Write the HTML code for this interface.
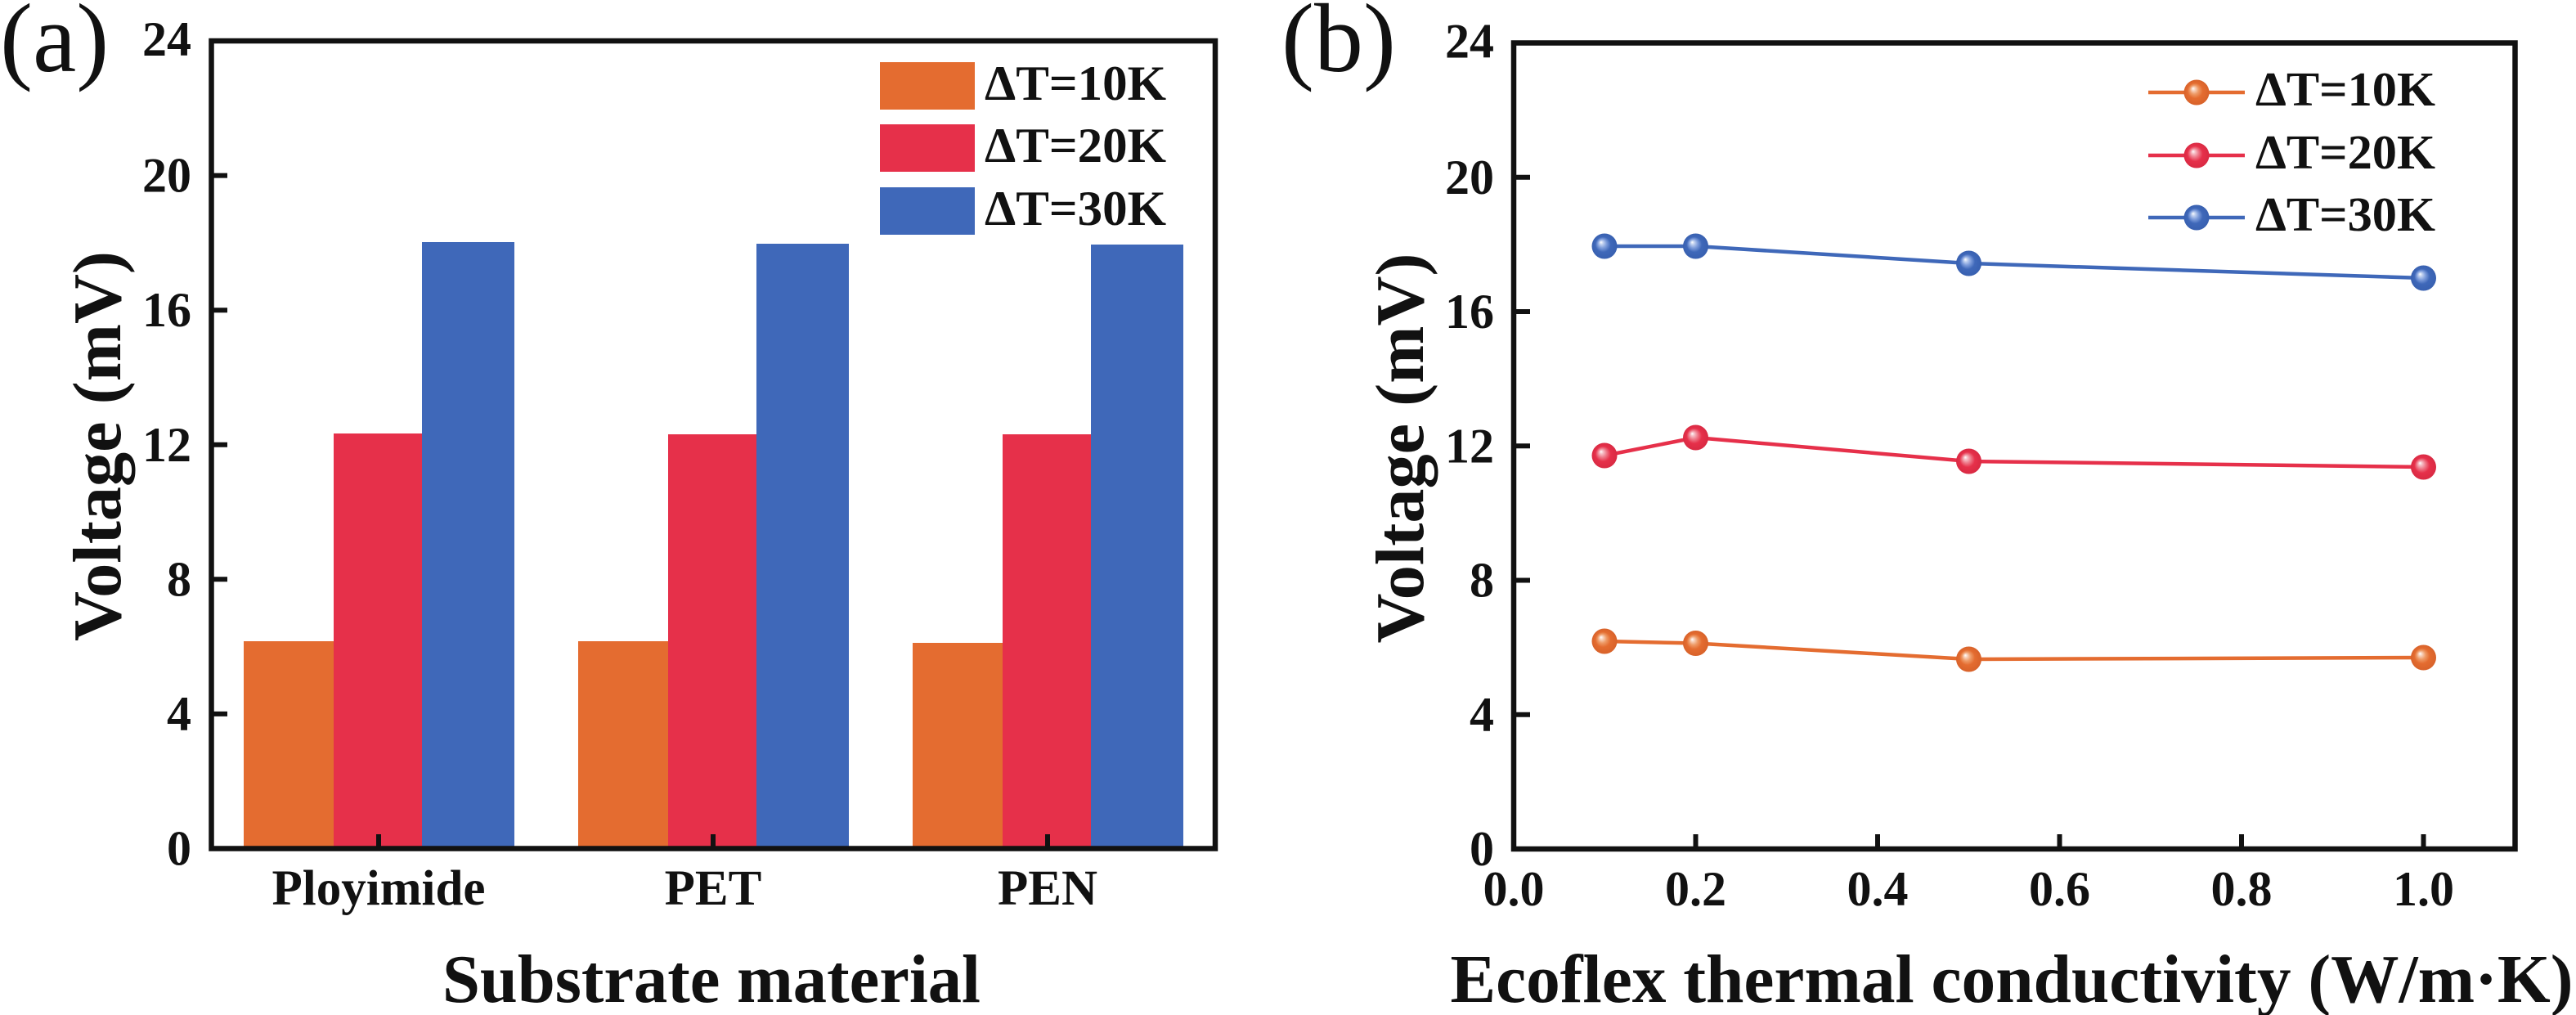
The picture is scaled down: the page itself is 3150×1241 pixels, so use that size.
<!DOCTYPE html>
<html>
<head>
<meta charset="utf-8">
<style>
  html,body{margin:0;padding:0;background:#fff;}
  svg{display:block;}
  text{font-family:"Liberation Serif","Times New Roman",serif;fill:#111;}
  .b{font-weight:bold;}
</style>
</head>
<body>
<svg width="3150" height="1241" viewBox="0 0 3150 1241" xmlns="http://www.w3.org/2000/svg">
  <defs>
    <radialGradient id="gO" cx="0.5" cy="0.5" r="0.5" fx="0.36" fy="0.34">
      <stop offset="0" stop-color="#ffffff"/>
      <stop offset="0.14" stop-color="#f8d2bc"/>
      <stop offset="0.35" stop-color="#ee9a66"/>
      <stop offset="0.6" stop-color="#e46c30"/>
      <stop offset="1" stop-color="#d8622a"/>
    </radialGradient>
    <radialGradient id="gR" cx="0.5" cy="0.5" r="0.5" fx="0.36" fy="0.34">
      <stop offset="0" stop-color="#ffffff"/>
      <stop offset="0.14" stop-color="#f6c0c8"/>
      <stop offset="0.35" stop-color="#ee7a8a"/>
      <stop offset="0.6" stop-color="#e6304a"/>
      <stop offset="1" stop-color="#d92a43"/>
    </radialGradient>
    <radialGradient id="gB" cx="0.5" cy="0.5" r="0.5" fx="0.36" fy="0.34">
      <stop offset="0" stop-color="#ffffff"/>
      <stop offset="0.14" stop-color="#c2d2f0"/>
      <stop offset="0.35" stop-color="#7e9ddb"/>
      <stop offset="0.6" stop-color="#3f68b9"/>
      <stop offset="1" stop-color="#3860b0"/>
    </radialGradient>
  </defs>

  <!-- ================= Panel (a) ================= -->
  <text x="0" y="87" font-size="120">(a)</text>

  <!-- bars -->
  <g>
    <!-- Ployimide center 463 -->
    <rect x="298" y="784" width="110.3" height="253.5" fill="#e46c30"/>
    <rect x="408" y="530" width="108.3" height="507.5" fill="#e6304a"/>
    <rect x="516" y="296" width="113" height="741.5" fill="#3f68b9"/>
    <!-- PET center 872 -->
    <rect x="707" y="784" width="110.3" height="253.5" fill="#e46c30"/>
    <rect x="817" y="531" width="108.3" height="506.5" fill="#e6304a"/>
    <rect x="925" y="298" width="113" height="739.5" fill="#3f68b9"/>
    <!-- PEN center 1281 -->
    <rect x="1116" y="786" width="110.3" height="251.5" fill="#e46c30"/>
    <rect x="1226" y="531" width="108.3" height="506.5" fill="#e6304a"/>
    <rect x="1334" y="299" width="113" height="738.5" fill="#3f68b9"/>
  </g>

  <!-- frame -->
  <rect x="258.5" y="50" width="1227.5" height="987.5" fill="none" stroke="#111" stroke-width="6.5"/>
  <!-- y ticks -->
  <g stroke="#111" stroke-width="6">
    <line x1="261" y1="872.9" x2="278" y2="872.9"/>
    <line x1="261" y1="708.3" x2="278" y2="708.3"/>
    <line x1="261" y1="543.8" x2="278" y2="543.8"/>
    <line x1="261" y1="379.2" x2="278" y2="379.2"/>
    <line x1="261" y1="214.6" x2="278" y2="214.6"/>
    <!-- x ticks -->
    <line x1="463" y1="1035" x2="463" y2="1020"/>
    <line x1="872" y1="1035" x2="872" y2="1020"/>
    <line x1="1281" y1="1035" x2="1281" y2="1020"/>
  </g>
  <!-- y tick labels -->
  <g class="b" font-size="60" text-anchor="end">
    <text x="234" y="1057.5">0</text>
    <text x="234" y="892.9">4</text>
    <text x="234" y="728.3">8</text>
    <text x="234" y="563.8">12</text>
    <text x="234" y="399.2">16</text>
    <text x="234" y="234.6">20</text>
    <text x="234" y="68">24</text>
  </g>
  <!-- x tick labels -->
  <g class="b" font-size="61" text-anchor="middle">
    <text x="463" y="1106">Ployimide</text>
    <text x="872" y="1106">PET</text>
    <text x="1281" y="1106">PEN</text>
  </g>
  <!-- axis titles -->
  <text class="b" x="870" y="1225" font-size="84" text-anchor="middle" textLength="658" lengthAdjust="spacingAndGlyphs">Substrate material</text>
  <text class="b" transform="translate(147,545.5) rotate(-90)" font-size="84" text-anchor="middle" textLength="477" lengthAdjust="spacingAndGlyphs">Voltage (mV)</text>

  <!-- legend (a) -->
  <rect x="1076" y="76" width="116" height="58" fill="#e46c30"/>
  <rect x="1076" y="152" width="116" height="58" fill="#e6304a"/>
  <rect x="1076" y="229" width="116" height="58" fill="#3f68b9"/>
  <g class="b" font-size="60">
    <text x="1204" y="122" textLength="222" lengthAdjust="spacingAndGlyphs">ΔT=10K</text>
    <text x="1204" y="198" textLength="222" lengthAdjust="spacingAndGlyphs">ΔT=20K</text>
    <text x="1204" y="275" textLength="222" lengthAdjust="spacingAndGlyphs">ΔT=30K</text>
  </g>

  <!-- ================= Panel (b) ================= -->
  <text x="1567" y="87" font-size="120">(b)</text>

  <!-- frame -->
  <rect x="1851" y="52.5" width="1224.5" height="985.5" fill="none" stroke="#111" stroke-width="6.5"/>
  <g stroke="#111" stroke-width="6">
    <line x1="1854" y1="873.75" x2="1871" y2="873.75"/>
    <line x1="1854" y1="709.5" x2="1871" y2="709.5"/>
    <line x1="1854" y1="545.25" x2="1871" y2="545.25"/>
    <line x1="1854" y1="381" x2="1871" y2="381"/>
    <line x1="1854" y1="216.75" x2="1871" y2="216.75"/>
    <line x1="2073.5" y1="1035" x2="2073.5" y2="1020"/>
    <line x1="2296" y1="1035" x2="2296" y2="1020"/>
    <line x1="2518.5" y1="1035" x2="2518.5" y2="1020"/>
    <line x1="2741" y1="1035" x2="2741" y2="1020"/>
    <line x1="2963.5" y1="1035" x2="2963.5" y2="1020"/>
  </g>
  <g class="b" font-size="60" text-anchor="end">
    <text x="1827" y="1058">0</text>
    <text x="1827" y="893.75">4</text>
    <text x="1827" y="729.5">8</text>
    <text x="1827" y="565.25">12</text>
    <text x="1827" y="401">16</text>
    <text x="1827" y="236.75">20</text>
    <text x="1827" y="70.5">24</text>
  </g>
  <g class="b" font-size="60" text-anchor="middle">
    <text x="1851" y="1107">0.0</text>
    <text x="2073.5" y="1107">0.2</text>
    <text x="2296" y="1107">0.4</text>
    <text x="2518.5" y="1107">0.6</text>
    <text x="2741" y="1107">0.8</text>
    <text x="2963.5" y="1107">1.0</text>
  </g>
  <text class="b" x="2460" y="1225" font-size="84" text-anchor="middle" textLength="1373" lengthAdjust="spacingAndGlyphs">Ecoflex thermal conductivity (W/m·K)</text>
  <text class="b" transform="translate(1740,548) rotate(-90)" font-size="84" text-anchor="middle" textLength="477" lengthAdjust="spacingAndGlyphs">Voltage (mV)</text>

  <!-- series lines -->
  <g fill="none" stroke-width="4.5" stroke-linejoin="round">
    <polyline stroke="#3f68b9" points="1962,301 2073.5,301 2407.5,322 2963.5,340"/>
    <polyline stroke="#e6304a" points="1962,557 2073.5,535 2407.5,564 2963.5,571"/>
    <polyline stroke="#e46c30" points="1962,784 2073.5,786.5 2407.5,806 2963.5,804"/>
  </g>
  <!-- markers -->
  <g>
    <circle cx="1962" cy="301" r="15.5" fill="url(#gB)"/>
    <circle cx="2073.5" cy="301" r="15.5" fill="url(#gB)"/>
    <circle cx="2407.5" cy="322" r="15.5" fill="url(#gB)"/>
    <circle cx="2963.5" cy="340" r="15.5" fill="url(#gB)"/>
    <circle cx="1962" cy="557" r="15.5" fill="url(#gR)"/>
    <circle cx="2073.5" cy="535" r="15.5" fill="url(#gR)"/>
    <circle cx="2407.5" cy="564" r="15.5" fill="url(#gR)"/>
    <circle cx="2963.5" cy="571" r="15.5" fill="url(#gR)"/>
    <circle cx="1962" cy="784" r="15.5" fill="url(#gO)"/>
    <circle cx="2073.5" cy="786.5" r="15.5" fill="url(#gO)"/>
    <circle cx="2407.5" cy="806" r="15.5" fill="url(#gO)"/>
    <circle cx="2963.5" cy="804" r="15.5" fill="url(#gO)"/>
  </g>

  <!-- legend (b) -->
  <g stroke-width="4.5">
    <line x1="2627" y1="113" x2="2745" y2="113" stroke="#e46c30"/>
    <line x1="2627" y1="190" x2="2745" y2="190" stroke="#e6304a"/>
    <line x1="2627" y1="266" x2="2745" y2="266" stroke="#3f68b9"/>
  </g>
  <circle cx="2686" cy="113" r="15.5" fill="url(#gO)"/>
  <circle cx="2686" cy="190" r="15.5" fill="url(#gR)"/>
  <circle cx="2686" cy="266" r="15.5" fill="url(#gB)"/>
  <g class="b" font-size="59">
    <text x="2758" y="129" textLength="220" lengthAdjust="spacingAndGlyphs">ΔT=10K</text>
    <text x="2758" y="206" textLength="220" lengthAdjust="spacingAndGlyphs">ΔT=20K</text>
    <text x="2758" y="282" textLength="220" lengthAdjust="spacingAndGlyphs">ΔT=30K</text>
  </g>
</svg>
</body>
</html>
